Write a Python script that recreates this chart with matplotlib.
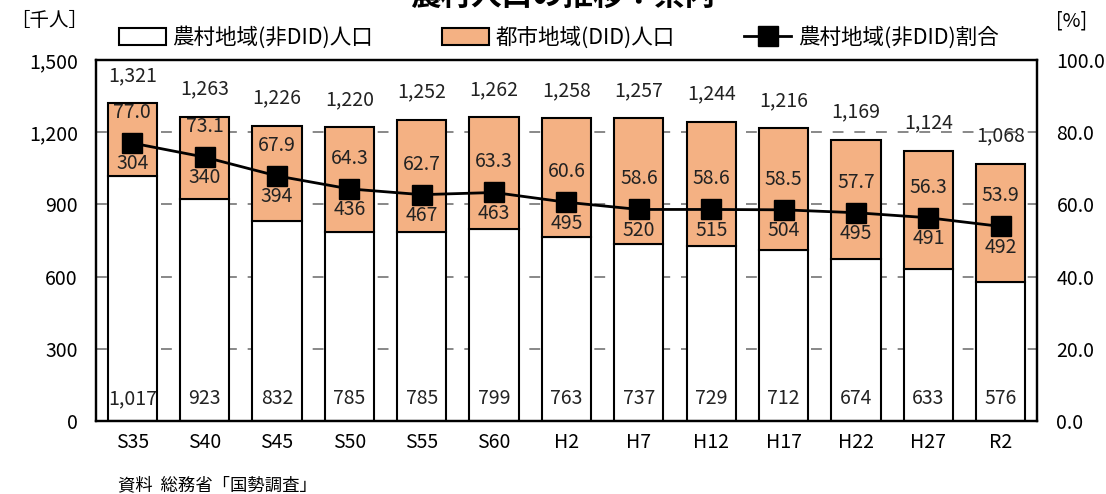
import matplotlib
matplotlib.use("Agg")
import matplotlib.pyplot as plt
import numpy as np

plt.rcParams['font.family'] = ['Noto Sans CJK JP', 'DejaVu Sans']

categories = ["S35", "S40", "S45", "S50", "S55", "S60", "H2", "H7", "H12", "H17", "H22", "H27", "R2"]
rural = [1017, 923, 832, 785, 785, 799, 763, 737, 729, 712, 674, 633, 576]
urban = [304, 340, 394, 436, 467, 463, 495, 520, 515, 504, 495, 491, 492]
totals = [1321, 1263, 1226, 1220, 1252, 1262, 1258, 1257, 1244, 1216, 1169, 1124, 1068]
rural_pct = [77.0, 73.1, 67.9, 64.3, 62.7, 63.3, 60.6, 58.6, 58.6, 58.5, 57.7, 56.3, 53.9]
left_ticks = [0, 300, 600, 900, 1200, 1500]
right_ticks = [0, 20, 40, 60, 80, 100]

orange = "#F4B183"
txt = "#222222"

fig = plt.figure(figsize=(11.06, 4.94), dpi=100)
ax = fig.add_axes([0.0868, 0.1478, 0.8508, 0.7307])
x = np.arange(len(categories))
w = 0.68

for y in left_ticks[1:-1]:
    ax.axhline(y, color="#7f7f7f", lw=1.3, ls=(0, (6, 6)), zorder=0)

ax.bar(x, rural, w, color="white", edgecolor="black", lw=1.5, zorder=2, label="農村地域(非DID)人口")
ax.bar(x, urban, w, bottom=rural, color=orange, edgecolor="black", lw=1.5, zorder=2, label="都市地域(DID)人口")
ax.set_ylim(0, 1500)
ax.set_xlim(-0.5, len(categories) - 0.5)
ax.set_yticks(left_ticks)
ax.set_yticklabels([f"{v:,}" for v in left_ticks])
ax.set_xticks(x)
ax.set_xticklabels(categories)
ax.tick_params(axis="both", length=0, labelsize=14, colors="black")
ax.tick_params(axis="y", pad=13)
ax.tick_params(axis="x", pad=8)
for s in ax.spines.values():
    s.set_linewidth(1.6)

ax2 = ax.twinx()
ax2.set_ylim(0, 100)
ax2.set_yticks(right_ticks)
ax2.set_yticklabels([f"{v:.1f}" for v in right_ticks])
ax2.tick_params(axis="y", length=0, labelsize=14, pad=14)
for s in ax2.spines.values():
    s.set_linewidth(1.6)
ln, = ax2.plot(x, rural_pct, color="black", lw=2, marker="s", markersize=14, zorder=5,
               label="農村地域(非DID)割合")

fs = 14
for i in range(len(categories)):
    ax.annotate(f"{totals[i]:,}", (x[i], totals[i]), xytext=(0, 20), textcoords="offset points",
                ha="center", va="center", fontsize=fs, color=txt)
    ax.annotate(f"{rural[i]:,}", (x[i], 0), xytext=(0, 16), textcoords="offset points",
                ha="center", va="center", fontsize=fs, color=txt)
    ax2.annotate(f"{rural_pct[i]:.1f}", (x[i], rural_pct[i]), xytext=(0, 22), textcoords="offset points",
                 ha="center", va="center", fontsize=fs, color=txt, zorder=6)
    ax2.annotate(f"{urban[i]:,}", (x[i], rural_pct[i]), xytext=(0, -15), textcoords="offset points",
                 ha="center", va="center", fontsize=fs, color=txt, zorder=6)

h1, l1 = ax.get_legend_handles_labels()
fig.legend(h1 + [ln], l1 + ["農村地域(非DID)割合"], loc="center", bbox_to_anchor=(0.505, 0.924),
           ncol=3, frameon=False, fontsize=15.5, handlelength=2.2, handleheight=0.85,
           columnspacing=3.2, handletextpad=0.3)

fig.text(0.009, 0.958, "［千人］", fontsize=14, ha="left", va="center")
fig.text(0.955, 0.958, "[%]", fontsize=14, ha="left", va="center")
fig.text(0.509, 1.0 + 4 / 494, "農村人口の推移：県内", fontsize=22, fontweight="bold", ha="center", va="center")
fig.text(0.107, 0.018, "資料  総務省「国勢調査」", fontsize=12.5, ha="left", va="center")

fig.savefig("out.png", dpi=100)
